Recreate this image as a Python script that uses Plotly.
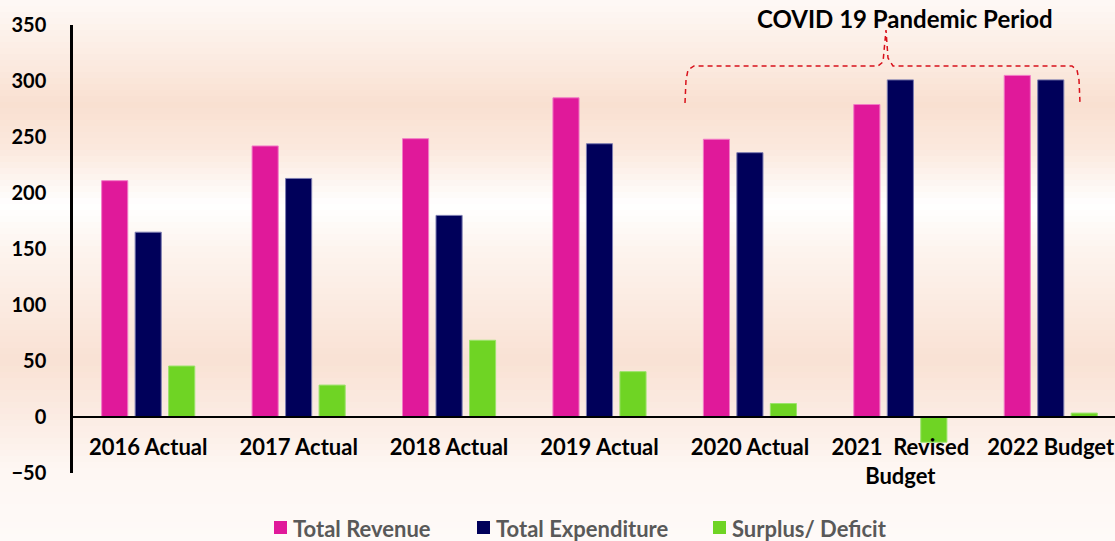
import plotly.graph_objects as go

categories = ["2016 Actual", "2017 Actual", "2018 Actual", "2019 Actual",
              "2020 Actual", "2021  Revised<br>Budget", "2022 Budget"]
total_revenue = [211, 242, 248.5, 285, 248, 279, 305]
total_expenditure = [165, 213, 180, 244, 236, 301, 301]
surplus_deficit = [45.5, 28.5, 68.5, 40.5, 12, -22.5, 3.5]
series_names = ["Total Revenue", "Total Expenditure", "Surplus/ Deficit"]
series_colors = ["#E0199A", "#00005A", "#6FD424"]
series_lines = ["#F27CC6", "#7C7CB0", "#9BE36A"]
y_ticks = [-50, 0, 50, 100, 150, 200, 250, 300, 350]

W, H = 1115, 541
ML, MR, MT, MB = 73, 0, 25, 68
PW, PH = W - ML - MR, H - MT - MB
FONT = "Lato"


def px(x):
    return (x - ML) / PW


def py(y):
    return (H - MB - y) / PH


fig = go.Figure()
for name, vals, col, lc in zip(series_names,
                               [total_revenue, total_expenditure, surplus_deficit],
                               series_colors, series_lines):
    fig.add_trace(go.Bar(x=categories, y=vals, name=name,
                         marker=dict(color=col, line=dict(color=lc, width=1)),
                         showlegend=False))

# background gradient bands
stops = [(0, (254, 249, 246)), (105, (249, 224, 209)), (150, (251, 233, 222)),
         (205, (255, 255, 255)), (250, (253, 244, 238)), (360, (249, 226, 212)),
         (420, (251, 236, 228)), (470, (254, 247, 243)), (541, (254, 250, 248))]


def color_at(y):
    for (y0, c0), (y1, c1) in zip(stops[:-1], stops[1:]):
        if y0 <= y <= y1:
            t = (y - y0) / (y1 - y0)
            return tuple(round(a + (b - a) * t) for a, b in zip(c0, c1))
    return stops[-1][1]


shapes = []
step = 6
for y in range(0, H, step):
    c = color_at(y + step / 2)
    shapes.append(dict(type="rect", xref="paper", yref="paper",
                       x0=px(0), x1=px(W), y0=py(y + step + 0.5), y1=py(y),
                       fillcolor="rgb(%d,%d,%d)" % c, line=dict(width=0),
                       layer="below"))

# COVID bracket (dashed curly brace)
pts = [(685, 103), (686, 80), (688, 70), (694, 66), (878, 66), (883, 62),
       (886, 30)]
pts2 = [(886, 30), (888, 58), (893, 66), (1072, 66), (1077, 70), (1079, 80),
        (1080, 103)]
path = "M " + " L ".join("%f,%f" % (px(a), py(b)) for a, b in pts + pts2[1:])
shapes.append(dict(type="path", xref="paper", yref="paper", path=path,
                   line=dict(color="#D8111B", width=1.5, dash="5px,4px")))

# legend squares
legend_x = [274, 477, 713]
for lx, col in zip(legend_x, series_colors):
    shapes.append(dict(type="rect", xref="paper", yref="paper",
                       x0=px(lx), x1=px(lx + 13), y0=py(534), y1=py(521),
                       fillcolor=col, line=dict(width=0)))

annotations = []
for lx, name in zip(legend_x, series_names):
    annotations.append(dict(x=px(lx + 17), y=py(528), xref="paper", yref="paper",
                            text="<b>%s</b>" % name, showarrow=False,
                            xanchor="left", yanchor="middle",
                            font=dict(family=FONT, size=22, color="#595959")))
annotations.append(dict(x=px(905), y=py(18), xref="paper", yref="paper",
                        text="<b>COVID 19 Pandemic Period</b>", showarrow=False,
                        xanchor="center", yanchor="middle",
                        font=dict(family=FONT, size=24, color="#000000")))

fig.update_layout(
    width=W, height=H,
    margin=dict(l=ML, r=MR, t=MT, b=MB, pad=0),
    paper_bgcolor="white", plot_bgcolor="rgba(0,0,0,0)",
    barmode="group", bargap=0.332, bargroupgap=0.22,
    shapes=shapes, annotations=annotations,
    font=dict(family=FONT, color="black"),
    xaxis=dict(type="category", range=[-0.5, 6.427], anchor="free",
               position=py(417), showline=True, linecolor="black", linewidth=2,
               showgrid=False, zeroline=False, ticks="", tickfont=dict(size=22, family=FONT,
                                                                      color="black", weight="bold"),
               ticklabelstandoff=11),
    yaxis=dict(range=[-50, 350], tickvals=y_ticks, showline=True,
               linecolor="black", linewidth=2.5, showgrid=False, zeroline=False,
               ticks="", tickfont=dict(size=20, family=FONT, color="black", weight="bold"),
               ticklabelstandoff=20),
)

fig.write_html("out.html", config={"displayModeBar": False},
               post_script="document.body.style.margin='0';document.body.style.overflow='hidden';")
